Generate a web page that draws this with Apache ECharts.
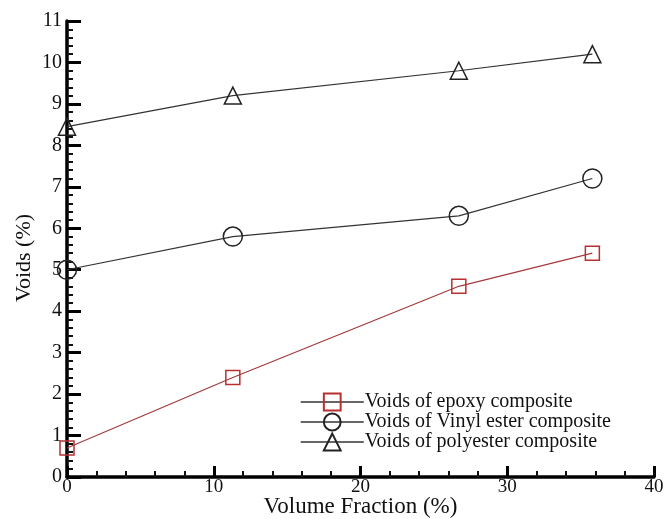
<!DOCTYPE html>
<html>
<head>
<meta charset="utf-8">
<script src="https://cdn.jsdelivr.net/npm/echarts@6/dist/echarts.min.js"></script>
<style>
  html, body { margin: 0; padding: 0; background: #fff; }
  #chart { width: 666px; height: 519px; }
</style>
</head>
<body>
<div id="chart"></div>
<script>
// Void content against fibre volume fraction for three resin systems
const volumeFraction = [0, 11.3, 26.7, 35.8];
const epoxyVoids = [0.7, 2.4, 4.6, 5.4];
const vinylEsterVoids = [5.0, 5.8, 6.3, 7.2];
const polyesterVoids = [8.45, 9.2, 9.8, 10.2];
const seriesNames = [
  'Voids of epoxy composite',
  'Voids of Vinyl ester composite',
  'Voids of polyester composite'
];

const FONT = '"Liberation Serif", "DejaVu Serif", serif';
const pairs = ys => volumeFraction.map((x, i) => [x, ys[i]]);

const chart = echarts.init(document.getElementById('chart'));

function lineSeries(name, ys, symbol, size, lineColor, markColor) {
  return {
    name: name,
    type: 'line',
    data: pairs(ys),
    symbol: symbol,
    symbolSize: size,
    showAllSymbol: true,
    lineStyle: { color: lineColor, width: 1.2 },
    itemStyle: { color: 'rgba(0,0,0,0)', borderColor: markColor, borderWidth: 1.5 },
    emphasis: { disabled: true },
    animation: false
  };
}

const axisCommon = {
  type: 'value',
  nameLocation: 'middle',
  nameMoveOverlap: false,
  axisLine: { show: true, onZero: false, lineStyle: { color: '#000', width: 3.5 } },
  minorTick: { show: true, splitNumber: 5, length: 6, lineStyle: { color: '#111', width: 2 } },
  splitLine: { show: false },
  minorSplitLine: { show: false }
};

chart.setOption({
  backgroundColor: '#fff',
  grid: {
    left: 67, right: 12, top: 21, bottom: 42,
    containLabel: false,
    outerBoundsMode: 'none'
  },
  xAxis: Object.assign({}, axisCommon, {
    min: 0, max: 40, interval: 10,
    name: 'Volume Fraction (%)',
    nameGap: 18,
    nameTextStyle: { fontFamily: FONT, fontSize: 23, color: '#111' },
    axisTick: { show: true, inside: true, length: 11, lineStyle: { color: '#000', width: 3 } },
    axisLabel: { fontFamily: FONT, fontSize: 19, color: '#111', margin: 1 }
  }),
  yAxis: Object.assign({}, axisCommon, {
    min: 0, max: 11, interval: 1,
    name: 'Voids (%)',
    nameGap: 32,
    nameRotate: 90,
    nameTextStyle: { fontFamily: FONT, fontSize: 22, color: '#111', padding: [0, 18, 0, 0] },
    axisTick: { show: true, inside: true, length: 14, lineStyle: { color: '#000', width: 3 } },
    axisLabel: { fontFamily: FONT, fontSize: 20, color: '#111', margin: 5 }
  }),
  legend: {
    left: 295,
    top: 387,
    orient: 'vertical',
    itemWidth: 63,
    itemHeight: 21,
    itemGap: 0,
    textStyle: { fontFamily: FONT, fontSize: 20, color: '#111', padding: [0, 0, 0, -4] },
    data: [
      { name: seriesNames[0], lineStyle: { color: '#333', width: 1.5 } },
      { name: seriesNames[1], lineStyle: { color: '#333', width: 1.5 } },
      { name: seriesNames[2], lineStyle: { color: '#333', width: 1.5 } }
    ],
    selectedMode: false
  },
  series: [
    lineSeries(seriesNames[0], epoxyVoids, 'rect', 14, '#a33a3a', '#b83030'),
    lineSeries(seriesNames[1], vinylEsterVoids, 'circle', 19, '#333', '#222'),
    lineSeries(seriesNames[2], polyesterVoids, 'triangle', 17, '#333', '#222')
  ]
});
</script>
</body>
</html>
